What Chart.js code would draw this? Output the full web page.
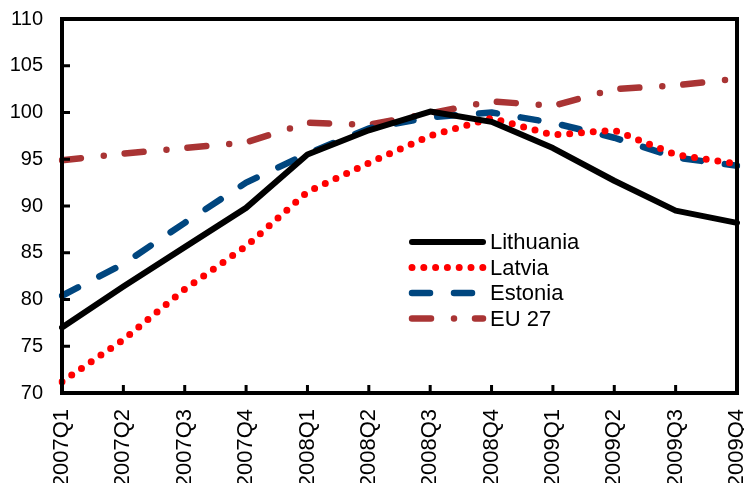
<!DOCTYPE html>
<html>
<head>
<meta charset="utf-8">
<script src="https://cdn.jsdelivr.net/npm/chart.js@4.4.0/dist/chart.umd.min.js"></script>
<style>
  html, body { margin: 0; padding: 0; background: #fff; overflow: hidden; }
  #wrap { width: 744px; height: 483px; }
</style>
</head>
<body>
<div id="wrap"><canvas id="chart" width="744" height="483"></canvas></div>
<script>
// data
var quarters = ["2007Q1", "2007Q2", "2007Q3", "2007Q4", "2008Q1", "2008Q2",
                "2008Q3", "2008Q4", "2009Q1", "2009Q2", "2009Q3", "2009Q4"];
var lithuania = [77.0, 81.4, 85.6, 89.8, 95.5, 98.1, 100.1, 99.0, 96.2, 92.7, 89.5, 88.2];
var latvia    = [71.2, 75.7, 81.1, 85.7, 91.5, 94.6, 97.5, 99.4, 97.6, 98.1, 95.5, 94.5];
var estonia   = [80.4, 83.8, 88.2, 92.5, 95.6, 98.3, 99.5, 100.0, 98.9, 97.3, 95.2, 94.3];
var eu27      = [94.9, 95.6, 96.2, 96.8, 98.9, 98.7, 99.9, 101.2, 100.7, 102.5, 102.9, 103.6];

var FONT = "'Liberation Sans', Arial, sans-serif";

// box frame + inward tick marks
var framePlugin = {
    id: "frame",
    afterDatasetsDraw: function (chart) {
        var ctx = chart.ctx, a = chart.chartArea;
        var xs = chart.scales.x, ys = chart.scales.y;
        ctx.save();
        ctx.strokeStyle = "#000";
        ctx.lineWidth = 3;
        ctx.beginPath();
        ys.ticks.forEach(function (t, i) {
            var y = ys.getPixelForTick(i);
            ctx.moveTo(a.left, y); ctx.lineTo(a.left + 8, y);
        });
        xs.ticks.forEach(function (t, i) {
            var x = xs.getPixelForTick(i);
            ctx.moveTo(x, a.bottom); ctx.lineTo(x, a.bottom - 8);
        });
        ctx.stroke();
        ctx.lineWidth = 4;
        ctx.strokeRect(a.left, a.top, a.right - a.left, a.bottom - a.top);
        ctx.restore();
    }
};

// legend drawn inside the plot
var legendPlugin = {
    id: "innerLegend",
    afterDraw: function (chart) {
        var ctx = chart.ctx;
        var x0 = 412, len = 71, y0 = 242, step = 25.5;
        ctx.save();
        ctx.font = "22px " + FONT;
        ctx.textBaseline = "middle";
        chart.data.datasets.forEach(function (ds, i) {
            var y = y0 + i * step;
            ctx.strokeStyle = ds.borderColor;
            ctx.lineWidth = ds.borderWidth;
            ctx.lineCap = "round";
            ctx.setLineDash(ds.borderDash || []);
            ctx.beginPath();
            ctx.moveTo(x0, y); ctx.lineTo(x0 + len, y);
            ctx.stroke();
            ctx.setLineDash([]);
            ctx.fillStyle = "#000";
            ctx.fillText(ds.label, x0 + len + 7, y + 1);
        });
        ctx.restore();
    }
};

var ctx = document.getElementById("chart").getContext("2d");
var myChart = new Chart(ctx, {
    type: "line",
    data: {
        labels: quarters,
        datasets: [{
                label: "Lithuania",
                data: lithuania,
                borderColor: "#000000",
                borderWidth: 6
            },
            {
                label: "Latvia",
                data: latvia,
                borderColor: "#ff0000",
                borderWidth: 7,
                borderDash: [0, 11.8]
            },
            {
                label: "Estonia",
                data: estonia,
                borderColor: "#00467f",
                borderWidth: 6.5,
                borderDash: [18, 24]
            },
            {
                label: "EU 27",
                data: eu27,
                borderColor: "#a93434",
                borderWidth: 6.5,
                borderDash: [19, 23, 0, 21]
            }
        ]
    },
    options: {
        responsive: false,
        animation: false,
        events: [],
        layout: { padding: { top: 19, right: 7, left: 0, bottom: 0 } },
        elements: {
            point: { radius: 0 },
            line: { tension: 0, borderCapStyle: "round", borderJoinStyle: "round", fill: false }
        },
        plugins: {
            legend: { display: false },
            tooltip: { enabled: false }
        },
        scales: {
            x: {
                offset: false,
                grid: { display: false, drawTicks: false },
                border: { display: false },
                ticks: {
                    autoSkip: false,
                    minRotation: 90,
                    maxRotation: 90,
                    padding: 16,
                    color: "#000",
                    font: { family: FONT, size: 22 }
                },
                afterFit: function (s) {
                    s.height = 90;
                    s.paddingLeft = 0;
                    s.paddingRight = 0;
                }
            },
            y: {
                min: 70,
                max: 110,
                grid: { display: false, drawTicks: false },
                border: { display: false },
                ticks: {
                    stepSize: 5,
                    padding: 19,
                    color: "#000",
                    font: { family: FONT, size: 20 }
                },
                afterFit: function (s) {
                    s.width = 62;
                    s.paddingTop = 0;
                    s.paddingBottom = 0;
                }
            }
        }
    },
    plugins: [framePlugin, legendPlugin]
});
</script>
</body>
</html>
